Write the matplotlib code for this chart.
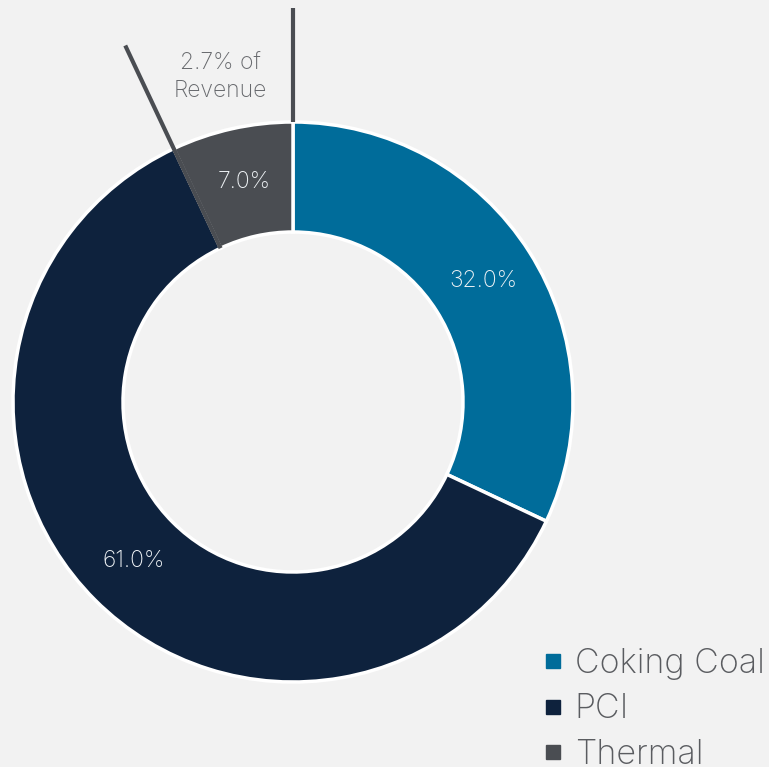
import numpy as np
import matplotlib.pyplot as plt
from matplotlib.lines import Line2D

plt.rcParams['font.family'] = ['Inter', 'DejaVu Sans']

categories = ['Coking Coal', 'PCI', 'Thermal']
values = [32.0, 61.0, 7.0]
colors = ['#006c9a', '#0e223d', '#4a4d52']
note = '2.7% of\nRevenue'

bg = '#f2f2f2'
fig = plt.figure(figsize=(7.69, 7.67), dpi=100, facecolor=bg)
ax = fig.add_axes([0, 0, 1, 1])
ax.set_facecolor(bg)

cx, cy, R = 293, 365, 280
wedges, texts, autotexts = ax.pie(values, colors=colors, startangle=90, counterclock=False,
                                  center=(cx, cy), radius=R, autopct='%.1f%%', pctdistance=0.804,
                                  wedgeprops=dict(width=110, edgecolor='white', linewidth=2.5),
                                  textprops=dict(color='#eef2f5', fontsize=16.5, fontweight='light'))
ax.set_xlim(0, 769)
ax.set_ylim(0, 767)
ax.set_aspect('equal')
ax.axis('off')

# leader lines along both edges of the thermal slice
th = wedges[2]
for ang, r0 in ((th.theta1, R), (th.theta2, R - 110)):
    a = np.deg2rad(ang)
    r1 = 394
    ax.plot([cx + r0 * np.cos(a), cx + r1 * np.cos(a)],
            [cy + r0 * np.sin(a), cy + r1 * np.sin(a)],
            color='#4a4d52', lw=3, solid_capstyle='butt', zorder=5)

ax.text(220, 767 - 77, note, ha='center', va='center', fontsize=16.5,
        color='#66686c', linespacing=1.3, fontweight='light')

handles = [Line2D([], [], marker='s', linestyle='', color=c, markersize=10) for c in colors]
leg = ax.legend(handles, categories, loc='lower right', bbox_to_anchor=(1.012, -0.023),
                frameon=False, fontsize=24.5, handlelength=0.55, handletextpad=0.35,
                labelspacing=0.4, borderaxespad=0)
for t in leg.get_texts():
    t.set_color('#5a5c60')
    t.set_fontweight('light')

fig.savefig('out.png', dpi=100, facecolor=bg)
